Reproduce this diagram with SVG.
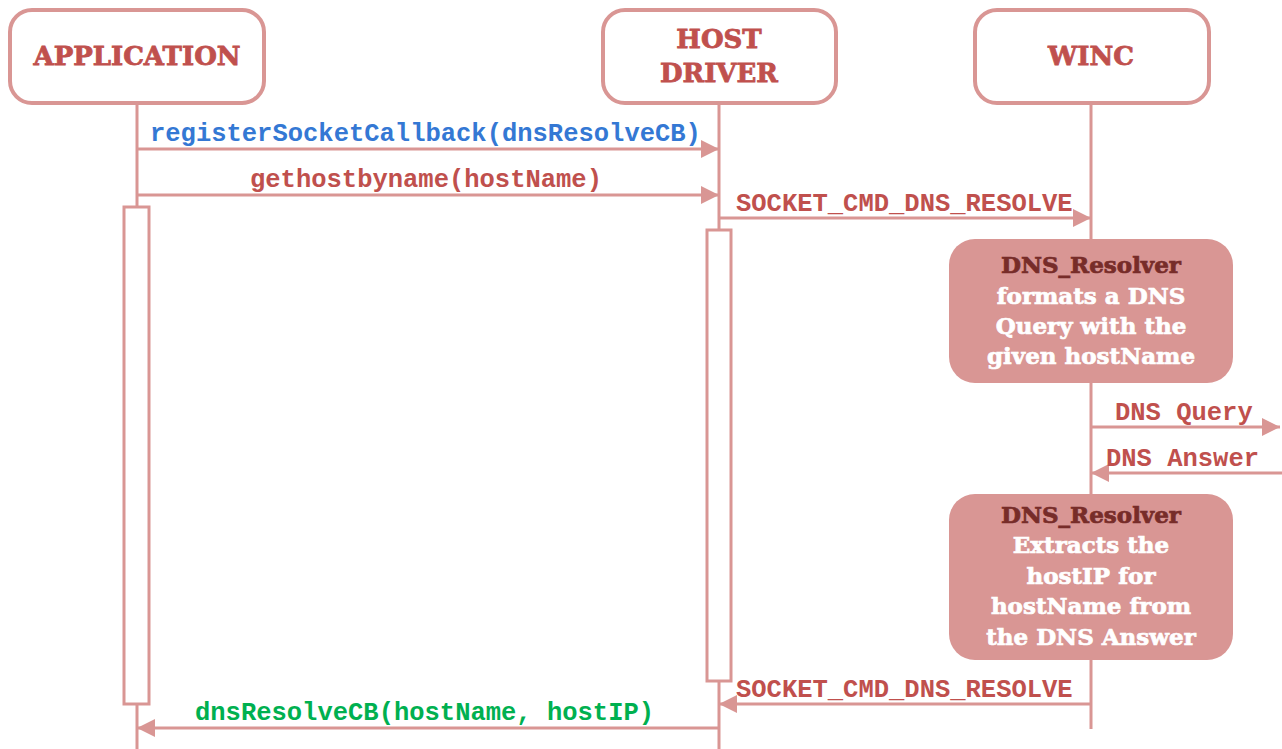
<svg xmlns="http://www.w3.org/2000/svg" width="1282" height="749" viewBox="0 0 1282 749">
<defs>
<style>
.hdr{fill:#fff;stroke:#d99694;stroke-width:4}
.ht{font-family:"DejaVu Serif","Liberation Serif",serif;font-weight:bold;font-size:26px;fill:#c0504d;stroke:#c0504d;stroke-width:0.8;text-anchor:middle}
.life{stroke:#d99694;stroke-width:3;fill:none}
.act{fill:#fff;stroke:#d99694;stroke-width:3}
.msg{stroke:#d99694;stroke-width:3;fill:none}
.mt{font-family:"Liberation Mono","Courier New",monospace;font-weight:bold;font-size:25.5px;fill:#c0504d}
.note{fill:#d99694}
.nt{font-family:"DejaVu Serif","Liberation Serif",serif;font-weight:bold;font-size:23px;fill:#fff;stroke:#fff;stroke-width:0.7;text-anchor:middle}
.nd{fill:#772c29;stroke:#772c29}
</style>
<marker id="ah" viewBox="0 0 18 18" refX="18" refY="9" markerWidth="18" markerHeight="18" markerUnits="userSpaceOnUse" orient="auto">
<path d="M0,0 L18,9 L0,18 Z" fill="#d99694"/>
</marker>
</defs>
<rect width="1282" height="749" fill="#fff"/>
<g id="lifelines">
<line class="life" x1="137" y1="103" x2="137" y2="749"/>
<line class="life" x1="719" y1="103" x2="719" y2="749"/>
<line class="life" x1="1091" y1="103" x2="1091" y2="729"/>
</g>
<g id="application">
<rect class="hdr" x="10" y="10" width="254" height="93" rx="22"/>
<text class="ht" x="137" y="65">APPLICATION</text>
</g>
<g id="host-driver">
<rect class="hdr" x="603" y="10" width="233" height="93" rx="22"/>
<text class="ht" x="719" y="48">HOST</text>
<text class="ht" x="719" y="82">DRIVER</text>
</g>
<g id="winc">
<rect class="hdr" x="975" y="10" width="234" height="93" rx="22"/>
<text class="ht" x="1091" y="65">WINC</text>
</g>
<g id="activations">
<rect class="act" x="124" y="207" width="25" height="497"/>
<rect class="act" x="707" y="230" width="24" height="451"/>
</g>
<g id="resolver-format">
<rect class="note" x="949" y="239" width="284" height="144" rx="26"/>
<text class="nt" x="1091" y="273"><tspan class="nd">DNS_Resolver</tspan></text>
<text class="nt" x="1091" y="304">formats a DNS</text>
<text class="nt" x="1091" y="334">Query with the</text>
<text class="nt" x="1091" y="364">given hostName</text>
</g>
<g id="resolver-extract">
<rect class="note" x="949" y="494" width="284" height="166" rx="26"/>
<text class="nt" x="1091" y="523"><tspan class="nd">DNS_Resolver</tspan></text>
<text class="nt" x="1091" y="553">Extracts the</text>
<text class="nt" x="1091" y="584">hostIP for</text>
<text class="nt" x="1091" y="614">hostName from</text>
<text class="nt" x="1091" y="645">the DNS Answer</text>
</g>
<g id="connectors">
<line class="msg" x1="137" y1="149" x2="719" y2="149" marker-end="url(#ah)"/>
<text class="mt" x="150" y="141" style="fill:#3478d4">registerSocketCallback(dnsResolveCB)</text>
<line class="msg" x1="137" y1="195" x2="719" y2="195" marker-end="url(#ah)"/>
<text class="mt" x="426" y="187" text-anchor="middle">gethostbyname(hostName)</text>
<line class="msg" x1="719" y1="218" x2="1091" y2="218" marker-end="url(#ah)"/>
<text class="mt" x="736" y="211">SOCKET_CMD_DNS_RESOLVE</text>
<line class="msg" x1="1091" y1="427" x2="1280" y2="427" marker-end="url(#ah)"/>
<text class="mt" x="1115" y="420">DNS Query</text>
<line class="msg" x1="1282" y1="473" x2="1091" y2="473" marker-end="url(#ah)"/>
<text class="mt" x="1106" y="466">DNS Answer</text>
<line class="msg" x1="1091" y1="704" x2="719" y2="704" marker-end="url(#ah)"/>
<text class="mt" x="736" y="697">SOCKET_CMD_DNS_RESOLVE</text>
<line class="msg" x1="719" y1="728" x2="137" y2="728" marker-end="url(#ah)"/>
<text class="mt" x="195" y="720" style="fill:#00b050">dnsResolveCB(hostName, hostIP)</text>
</g>
</svg>
